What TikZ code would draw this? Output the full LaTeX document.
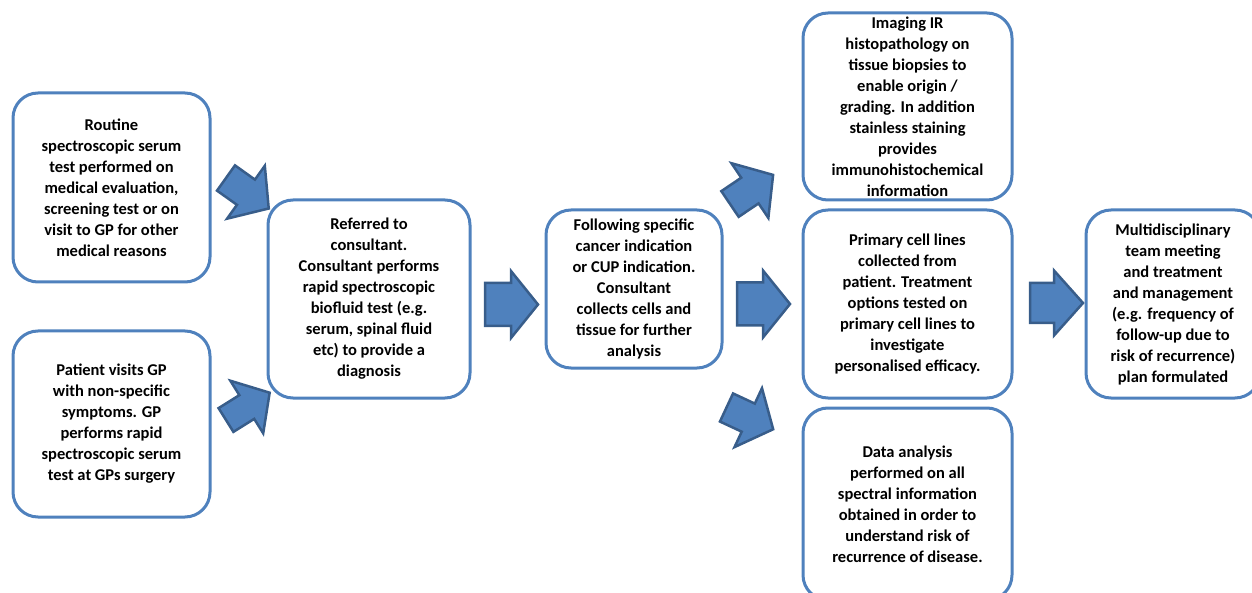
\documentclass[tikz,border=0pt]{standalone}
\usepackage{fontspec}
\setmainfont{Carlito}
\definecolor{boxblue}{HTML}{4F81BD}
\definecolor{arrowedge}{HTML}{385D8A}
\newcommand\blockarrow[7]{\draw[blockarrow, shift={(#1,#2)}, rotate=#3] (0,-#6) -- ({#4-#5},-#6) -- ({#4-#5},-#7) -- (#4,0) -- ({#4-#5},#7) -- ({#4-#5},#6) -- (0,#6) -- cycle;}
\begin{document}
\begin{tikzpicture}[x=1pt,y=-1pt,
  box/.style={draw=boxblue, line width=3pt, rounded corners=25pt, align=center,
    font=\fontsize{16.5}{21}\selectfont\bfseries, inner sep=0pt},
  blockarrow/.style={fill=boxblue, draw=arrowedge, line width=2.5pt, line join=miter}]
\useasboundingbox (0,0) rectangle (1252,593);

\node[box, minimum width=197pt, minimum height=189pt] (b1) at (111.5,187.5)
  {Routine\\spectroscopic serum\\test performed on\\medical evaluation,\\screening test or on\\visit to GP for other\\medical reasons};
\node[box, minimum width=197pt, minimum height=186pt] (b2) at (111.5,424)
  {Patient visits GP\\with non-specific\\symptoms. GP\\performs rapid\\spectroscopic serum\\test at GPs surgery};
\node[box, minimum width=202pt, minimum height=198pt] (b3) at (369,299)
  {Referred to\\consultant.\\Consultant performs\\rapid spectroscopic\\biofluid test (e.g.\\serum, spinal fluid\\etc) to provide a\\diagnosis};
\node[box, minimum width=176pt, minimum height=158pt] (b4) at (634,289)
  {Following specific\\cancer indication\\or CUP indication.\\Consultant\\collects cells and\\tissue for further\\analysis};
\node[box, minimum width=209pt, minimum height=187pt] (b5) at (907.5,106.5)
  {Imaging IR\\histopathology on\\tissue biopsies to\\enable origin /\\grading. In addition\\stainless staining\\provides\\immunohistochemical\\information};
\node[box, minimum width=209pt, minimum height=188pt] (b6) at (907.5,304)
  {Primary cell lines\\collected from\\patient. Treatment\\options tested on\\primary cell lines to\\investigate\\personalised efficacy.};
\node[box, minimum width=209pt, minimum height=192pt] (b7) at (907.5,504)
  {Data analysis\\performed on all\\spectral information\\obtained in order to\\understand risk of\\recurrence of disease.};
\node[box, minimum width=174pt, minimum height=188pt] (b8) at (1173,304)
  {Multidisciplinary\\team meeting\\and treatment\\and management\\(e.g. frequency of\\follow-up due to\\risk of recurrence)\\plan formulated};

% block arrows: x, y (tail middle), angle, length, head length, half shaft, half head
\blockarrow{226}{178}{-35.5}{52.5}{28}{15.5}{32.5}
\blockarrow{226}{420}{32}{51.5}{27}{14}{31}
\blockarrow{485}{304.5}{0}{53}{27}{21.5}{33.5}
\blockarrow{730}{204}{34}{52}{28}{15.5}{33}
\blockarrow{737}{304}{0}{53}{27}{21.5}{33.5}
\blockarrow{726.5}{407.5}{-25}{51.5}{27.5}{15.5}{32.5}
\blockarrow{1030}{303}{0}{53}{29}{20}{32.5}
\end{tikzpicture}
\end{document}
